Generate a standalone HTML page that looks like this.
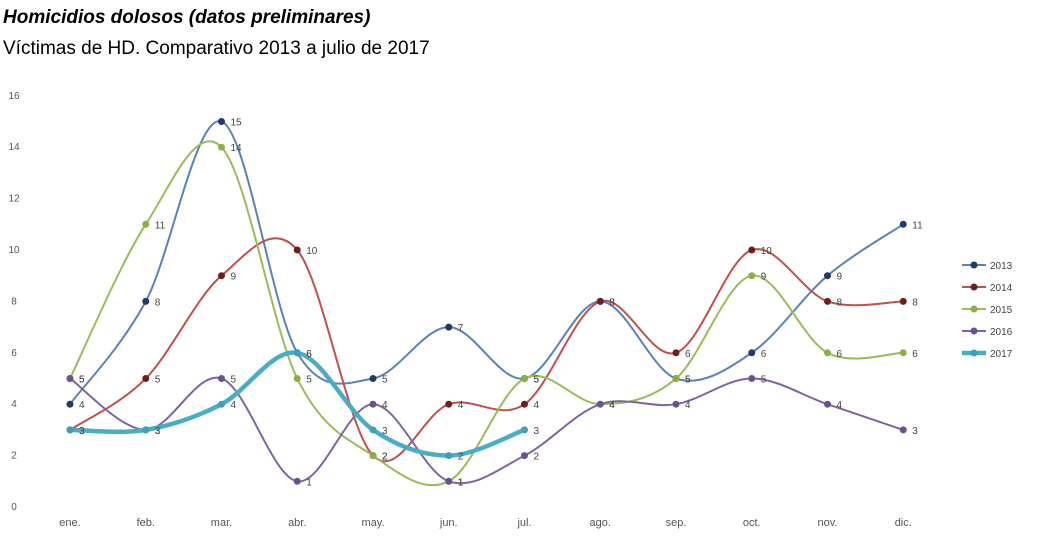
<!DOCTYPE html>
<html><head><meta charset="utf-8"><style>
body{margin:0;background:#fff;width:1045px;height:541px;overflow:hidden;font-family:"Liberation Sans",sans-serif}
</style></head><body>
<svg id="s" width="1045" height="541" xmlns="http://www.w3.org/2000/svg" font-family="Liberation Sans, sans-serif">
<text x="3" y="23" font-size="19" font-weight="bold" font-style="italic" fill="#000">Homicidios dolosos (datos preliminares)</text>
<text x="3" y="54" font-size="19" fill="#000">Víctimas de HD. Comparativo 2013 a julio de 2017</text>
<g id="g"></g>
</svg>
<script>
var g=document.getElementById('g'),NS='http://www.w3.org/2000/svg';
function el(t,a,txt){var e=document.createElementNS(NS,t);for(var k in a)e.setAttribute(k,a[k]);if(txt!=null)e.textContent=txt;g.appendChild(e);return e;}
var X=function(i){return 70+i*75.75},Y=function(v){return 507-v*25.7};
for(var v=0;v<=16;v+=2)el('text',{x:14,y:Y(v)+3,'font-size':10,fill:'#555','text-anchor':'middle'},v);
var m=['ene.','feb.','mar.','abr.','may.','jun.','jul.','ago.','sep.','oct.','nov.','dic.'];
m.forEach(function(t,i){el('text',{x:X(i),y:526,'font-size':11,fill:'#555','text-anchor':'middle'},t)});
var S=[
['2013',[4,8,15,6,5,7,5,8,5,6,9,11],'#5a82b8','#1f3b66',2],
['2014',[3,5,9,10,2,4,4,8,6,10,8,8],'#c0504d','#6e1f1d',2],
['2015',[5,11,14,5,2,1,5,4,5,9,6,6],'#9bbb59','#8cae4a',2],
['2016',[5,3,5,1,4,1,2,4,4,5,4,3],'#8064a2','#6b5190',2],
['2017',[3,3,4,6,3,2,3],'#4bacc6','#3e9fb8',4.5]];
S.forEach(function(s,k){
 var p=s[1].map(function(v,i){return [X(i),Y(v)]}),d='M'+p[0];
 for(var i=0;i<p.length-1;i++){var a=p[i-1]||p[i],b=p[i],c=p[i+1],e=p[i+2]||c,t=0.17*3/3;
  var c1=[b[0]+(c[0]-a[0])/6,b[1]+(c[1]-a[1])/6],c2=[c[0]-(e[0]-b[0])/6,c[1]-(e[1]-b[1])/6];
  d+=' C'+c1+' '+c2+' '+c;}
 el('path',{d:d,fill:'none',stroke:s[2],'stroke-width':s[4]});
 p.forEach(function(q,i){el('circle',{cx:q[0],cy:q[1],r:3.5,fill:s[3]});
  el('text',{x:q[0]+9,y:q[1]+4,'font-size':10,fill:'#444'},s[1][i]);});
 var ly=265+k*22;
 el('line',{x1:962,y1:ly,x2:986,y2:ly,stroke:s[2],'stroke-width':s[4]});
 el('circle',{cx:974,cy:ly,r:3.5,fill:s[3]});
 el('text',{x:990,y:ly+4,'font-size':10,fill:'#444'},s[0]);
});
</script>
</body></html>
